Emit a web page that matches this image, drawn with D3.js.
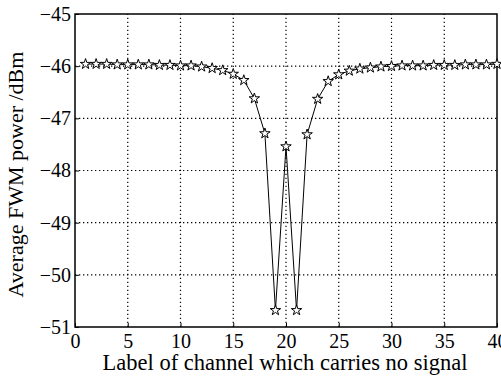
<!DOCTYPE html>
<html>
<head>
<meta charset="utf-8">
<script src="https://cdn.jsdelivr.net/npm/d3@7"></script>
<style>
  body { margin: 0; background: #fff; }
  svg text { font-family: "Liberation Serif", serif; fill: #000; }
</style>
</head>
<body>
<div id="chart"></div>
<script>
// channel labels and measured average FWM power (dBm)
var channels = d3.range(1, 41);
var powerValues = [-45.96, -45.96, -45.96, -45.97, -45.97, -45.97, -45.97, -45.98, -45.98, -45.99,
                   -45.99, -46.01, -46.04, -46.08, -46.15, -46.27, -46.62, -47.29, -50.68, -47.54,
                   -50.68, -47.31, -46.63, -46.29, -46.16, -46.09, -46.05, -46.03, -46.01, -46.00,
                   -45.99, -45.99, -45.99, -45.98, -45.98, -45.98, -45.97, -45.97, -45.97, -45.96];
var xTicks = [0, 5, 10, 15, 20, 25, 30, 35, 40];
var yTicks = [-51, -50, -49, -48, -47, -46, -45];
var xTitle = "Label of channel which carries no signal";
var yTitle = "Average FWM power /dBm";

var width = 501, height = 377;
var margin = {top: 14, right: 4, bottom: 50, left: 75};

var svg = d3.select("#chart").append("svg")
    .attr("width", width)
    .attr("height", height);

var x = d3.scaleLinear().domain([0, 40]).range([margin.left, width - margin.right]);
var y = d3.scaleLinear().domain([-51, -45]).range([height - margin.bottom, margin.top]);

var fmt = function(d) { return d < 0 ? "\u2212" + Math.abs(d) : "" + d; };

// dotted grid
svg.append("g").selectAll("line")
    .data(xTicks.slice(1, -1))
    .enter().append("line")
    .attr("x1", function(d) { return x(d); })
    .attr("x2", function(d) { return x(d); })
    .attr("y1", y(-51)).attr("y2", y(-45))
    .attr("stroke", "#000").attr("stroke-width", 1.2)
    .attr("stroke-dasharray", "1.3,2.7");

svg.append("g").selectAll("line")
    .data(yTicks.slice(1, -1))
    .enter().append("line")
    .attr("y1", function(d) { return y(d); })
    .attr("y2", function(d) { return y(d); })
    .attr("x1", x(0)).attr("x2", x(40))
    .attr("stroke", "#000").attr("stroke-width", 1.2)
    .attr("stroke-dasharray", "1.3,2.7");

// axes
var xAxis = svg.append("g")
    .attr("transform", "translate(0," + y(-51) + ")")
    .call(d3.axisBottom(x).tickValues(xTicks).tickFormat(fmt).tickSizeInner(-4).tickSizeOuter(0));
var yAxis = svg.append("g")
    .attr("transform", "translate(" + x(0) + ",0)")
    .call(d3.axisLeft(y).tickValues(yTicks).tickFormat(fmt).tickSizeInner(-4).tickSizeOuter(0));

xAxis.select(".domain").remove();
yAxis.select(".domain").remove();
xAxis.attr("font-family", "Liberation Serif").attr("font-size", 20);
yAxis.attr("font-family", "Liberation Serif").attr("font-size", 20);
xAxis.selectAll("text").attr("y", 7).attr("dy", "0.71em");
yAxis.selectAll("text").attr("x", -4);
svg.selectAll(".tick line").attr("stroke", "#000");

// frame
svg.append("rect")
    .attr("x", x(0)).attr("y", y(-45))
    .attr("width", x(40) - x(0)).attr("height", y(-51) - y(-45))
    .attr("fill", "none").attr("stroke", "#000").attr("stroke-width", 1.5);

// line + star markers
var line = d3.line()
    .x(function(d, i) { return x(channels[i]); })
    .y(function(d) { return y(d); });

svg.append("path")
    .datum(powerValues)
    .attr("d", line)
    .attr("fill", "none")
    .attr("stroke", "#000")
    .attr("stroke-width", 1);

svg.append("g").selectAll("path")
    .data(powerValues)
    .enter().append("path")
    .attr("d", d3.symbol().type(d3.symbolStar).size(34))
    .attr("transform", function(d, i) { return "translate(" + x(channels[i]) + "," + y(d) + ")"; })
    .attr("fill", "#fff")
    .attr("stroke", "#000")
    .attr("stroke-width", 1);

// titles
svg.append("text")
    .attr("x", 285)
    .attr("y", 370)
    .attr("text-anchor", "middle")
    .attr("font-size", 22.5)
    .text(xTitle);

svg.append("text")
    .attr("transform", "translate(23," + ((y(-45) + y(-51)) / 2 + 4) + ") rotate(-90)")
    .attr("text-anchor", "middle")
    .attr("font-size", 22)
    .text(yTitle);
</script>
</body>
</html>
